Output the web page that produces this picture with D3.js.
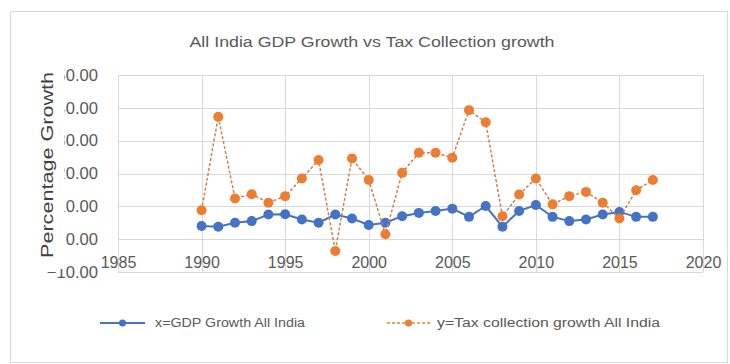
<!DOCTYPE html>
<html>
<head>
<meta charset="utf-8">
<script src="https://cdn.jsdelivr.net/npm/d3@7"></script>
<style>
  html, body { margin: 0; padding: 0; background: #fff; }
  svg { display: block; font-family: "Liberation Sans", Arial, sans-serif; }
</style>
</head>
<body>
<svg id="chart" width="730" height="364"></svg>
<script>
// Annual growth rates (%), all India
const years = [1990, 1991, 1992, 1993, 1994, 1995, 1996, 1997, 1998, 1999,
               2000, 2001, 2002, 2003, 2004, 2005, 2006, 2007, 2008, 2009,
               2010, 2011, 2012, 2013, 2014, 2015, 2016, 2017];
const gdpGrowth = [4.0, 3.8, 5.0, 5.5, 7.5, 7.6, 6.0, 5.0, 7.5, 6.3,
                   4.3, 5.0, 7.0, 8.0, 8.6, 9.3, 6.8, 10.1, 3.8, 8.6,
                   10.4, 6.8, 5.5, 6.0, 7.5, 8.3, 6.8, 6.8];
const taxGrowth = [8.8, 37.3, 12.4, 13.7, 11.1, 13.1, 18.5, 24.1, -3.6, 24.6,
                   18.0, 1.5, 20.2, 26.3, 26.3, 24.8, 39.3, 35.6, 7.0, 13.6,
                   18.5, 10.6, 13.1, 14.4, 11.1, 6.3, 14.9, 18.0];
const xTicks = [1985, 1990, 1995, 2000, 2005, 2010, 2015, 2020];
const yTicks = [-10, 0, 10, 20, 30, 40, 50];

const chartTitle = "All India GDP Growth vs Tax Collection growth";
const yTitle = "Percentage Growth";
const seriesNames = ["x=GDP Growth All India", "y=Tax collection growth All India"];
const colors = { gdp: "#4472C4", tax: "#ED7D31", grid: "#D9D9D9", text: "#595959" };

const svg = d3.select("#chart");

// chart frame
svg.append("rect").attr("x", 10.5).attr("y", 11.5).attr("width", 717).attr("height", 351)
  .attr("fill", "#fff").attr("stroke", "#D9D9D9").attr("stroke-width", 1);

const x = d3.scaleLinear().domain([1985, 2020]).range([118, 703]);
const y = d3.scaleLinear().domain([-10, 50]).range([272, 75]);

// gridlines
const grid = svg.append("g");
grid.selectAll("line.h").data(yTicks).join("line")
  .attr("x1", x(1985)).attr("x2", x(2020))
  .attr("y1", d => Math.round(y(d)) + 0.5).attr("y2", d => Math.round(y(d)) + 0.5)
  .attr("stroke", colors.grid).attr("stroke-width", 1);
grid.selectAll("line.v").data(xTicks).join("line")
  .attr("y1", y(50)).attr("y2", y(-10))
  .attr("x1", d => Math.round(x(d)) + 0.5).attr("x2", d => Math.round(x(d)) + 0.5)
  .attr("stroke", colors.grid).attr("stroke-width", 1);

// y tick labels
const yAxis = d3.axisLeft(y).tickValues(yTicks).tickFormat(d3.format(".2f")).tickSize(0).tickPadding(0);
const yg = svg.append("g").attr("transform", "translate(98,0)").call(yAxis);
yg.select(".domain").remove();
yg.selectAll("text").attr("fill", colors.text).style("font-size", "16.6px").attr("dy", "0.32em");

// x tick labels (sit just above the bottom gridline)
const xAxis = d3.axisBottom(x).tickValues(xTicks).tickFormat(d3.format("d")).tickSize(0).tickPadding(0);
const xg = svg.append("g").attr("transform", "translate(0,256.6)").call(xAxis);
xg.select(".domain").remove();
xg.selectAll("text").attr("fill", colors.text).style("font-size", "16px");

// axis title with its own white box
const yt = svg.append("g").attr("transform", "translate(53,165) rotate(-90)");
yt.append("rect").attr("x", -104).attr("y", -16).attr("width", 208).attr("height", 27.5).attr("fill", "#fff");
yt.append("text").attr("text-anchor", "middle").attr("x", 0).attr("y", 0)
  .attr("fill", "#404040").style("font-size", "16px")
  .attr("textLength", 186).attr("lengthAdjust", "spacingAndGlyphs")
  .text(yTitle);

// chart title
svg.append("text").attr("x", 372).attr("y", 47).attr("text-anchor", "middle")
  .attr("fill", colors.text).style("font-size", "14px")
  .attr("textLength", 365).attr("lengthAdjust", "spacingAndGlyphs")
  .text(chartTitle);

// series
const line = d3.line().x((d, i) => x(years[i])).y(d => y(d));

svg.append("path").datum(gdpGrowth).attr("d", line)
  .attr("fill", "none").attr("stroke", colors.gdp).attr("stroke-width", 2);
svg.append("g").selectAll("circle").data(gdpGrowth).join("circle")
  .attr("cx", (d, i) => x(years[i])).attr("cy", d => y(d)).attr("r", 5)
  .attr("fill", colors.gdp);

svg.append("path").datum(taxGrowth).attr("d", line)
  .attr("fill", "none").attr("stroke", "#C9804E").attr("stroke-width", 1.5)
  .attr("stroke-dasharray", "3,2");
svg.append("g").selectAll("circle").data(taxGrowth).join("circle")
  .attr("cx", (d, i) => x(years[i])).attr("cy", d => y(d)).attr("r", 5)
  .attr("fill", colors.tax);

// legend
const lg = svg.append("g");
const legendItems = [
  { name: seriesNames[0], color: colors.gdp, dash: null, x0: 100, x1: 145, text: 155, w: 150 },
  { name: seriesNames[1], color: colors.tax, dash: "3,2", x0: 387, x1: 430, text: 437, w: 223 }
];
legendItems.forEach(it => {
  lg.append("line").attr("x1", it.x0).attr("x2", it.x1).attr("y1", 323).attr("y2", 323)
    .attr("stroke", it.color).attr("stroke-width", it.dash ? 1.5 : 2)
    .attr("stroke-dasharray", it.dash);
  lg.append("circle").attr("cx", (it.x0 + it.x1) / 2).attr("cy", 323).attr("r", 3.5).attr("fill", it.color);
  lg.append("text").attr("x", it.text).attr("y", 327).attr("fill", colors.text)
    .style("font-size", "12px").attr("textLength", it.w).attr("lengthAdjust", "spacingAndGlyphs")
    .text(it.name);
});
</script>
</body>
</html>
